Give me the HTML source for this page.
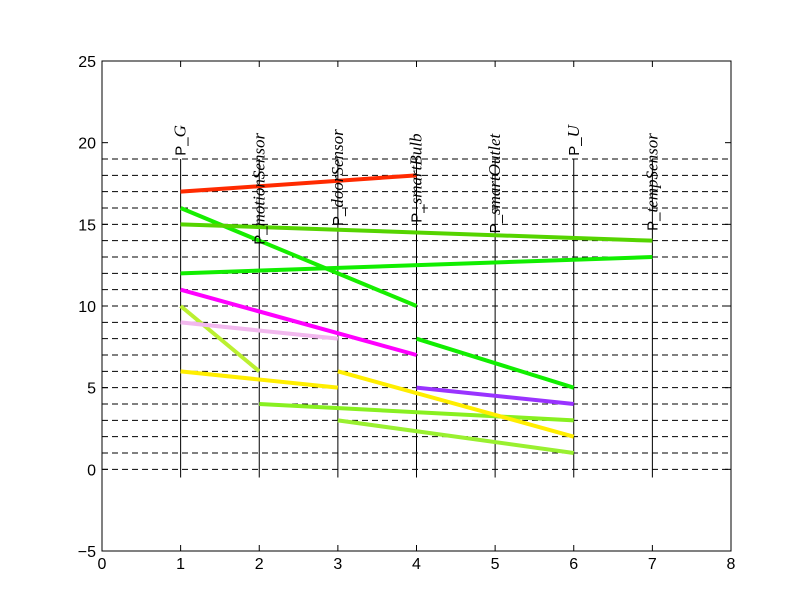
<!DOCTYPE html>
<html><head><meta charset="utf-8"><style>
body{margin:0;background:#fff}
svg{display:block;font-family:"Liberation Sans",sans-serif}
.lbl tspan.m{font-family:"Liberation Serif",serif;font-style:italic;font-size:17px}
</style></head><body>
<svg id="c" width="812" height="612">
<rect x="0" y="0" width="812" height="612" fill="#fff"/>
<g id="grid"></g>
<g id="vlines"></g>
<g id="series"></g>
<g id="labels"></g>
<rect x="102" y="61" width="629" height="490" fill="none" stroke="#000" stroke-width="1"/>
<g id="ticks"></g>
</svg>
<script>
const xTicks=[0,1,2,3,4,5,6,7,8];
const yTicks=[-5,0,5,10,15,20,25];
const gridLevels=[0,1,2,3,4,5,6,7,8,9,10,11,12,13,14,15,16,17,18,19];
const nodeX=[1,2,3,4,5,6,7];
const nodeNames=["G","motionSensor","doorSensor","smartBulb","smartOutlet","U","tempSensor"];
const nodeLabelBottom=[19.2,13.75,14.9,15.1,14.45,19.2,14.6];
const segX1=[1,1,1,1,1,1,1,1,2,3,3,4,4];
const segY1=[17,16,15,12,11,10,9,6,4,6,3,8,5];
const segX2=[4,4,7,7,4,2,3,3,6,6,6,6,6];
const segY2=[18,10,14,13,7,6,8,5,3,2,1,5,4];
const segColor=["#ff2a00","#17ee00","#55d400","#11ee00","#ff00ff","#bbf030","#f2b8ee","#ffee00","#88f020","#ffee00","#99f030","#11ee00","#9933ff"];
const NS="http://www.w3.org/2000/svg";
const X=v=>102+v*629/8, Y=v=>551-(v+5)*490/30;
function mk(t,a,p){const e=document.createElementNS(NS,t);for(const k in a)e.setAttribute(k,a[k]);p.appendChild(e);return e;}
const grid=document.getElementById('grid');
gridLevels.forEach(v=>{const l=mk('line',{x1:102,x2:731,y1:Y(v),y2:Y(v),stroke:'#000','stroke-width':1,'stroke-dasharray':'6,4'},grid);

});
const vl=document.getElementById('vlines'),lb=document.getElementById('labels');
nodeX.forEach((v,i)=>{const l=mk('line',{x1:X(v),x2:X(v),y1:Y(-0.5),y2:Y(19),stroke:'#000','stroke-width':1},vl);


const t=mk('text',{class:'lbl',transform:`translate(${X(v)+5},${Y(nodeLabelBottom[i])}) rotate(-90)`,'font-size':15},lb);


const a=mk('tspan',{},t);a.textContent='P_';const b=mk('tspan',{class:'m'},t);b.textContent=nodeNames[i];});
const sg=document.getElementById('series');
segX1.forEach((v,i)=>{const l=mk('line',{x1:X(v),y1:Y(segY1[i]),x2:X(segX2[i]),y2:Y(segY2[i]),stroke:segColor[i],'stroke-width':4},sg);

});
const tk=document.getElementById('ticks');
xTicks.forEach(v=>{mk('line',{x1:X(v),x2:X(v),y1:551,y2:545,stroke:'#000'},tk);mk('line',{x1:X(v),x2:X(v),y1:61,y2:67,stroke:'#000'},tk);
const t=mk('text',{x:X(v),y:569,'text-anchor':'middle','font-size':16},tk);t.textContent=v;

});
yTicks.forEach(v=>{mk('line',{x1:102,x2:108,y1:Y(v),y2:Y(v),stroke:'#000'},tk);mk('line',{x1:731,x2:725,y1:Y(v),y2:Y(v),stroke:'#000'},tk);
const t=mk('text',{x:96,y:Y(v)+6,'text-anchor':'end','font-size':16},tk);t.textContent=v<0?'\u2212'+(-v):v;

});
</script>
</body></html>
